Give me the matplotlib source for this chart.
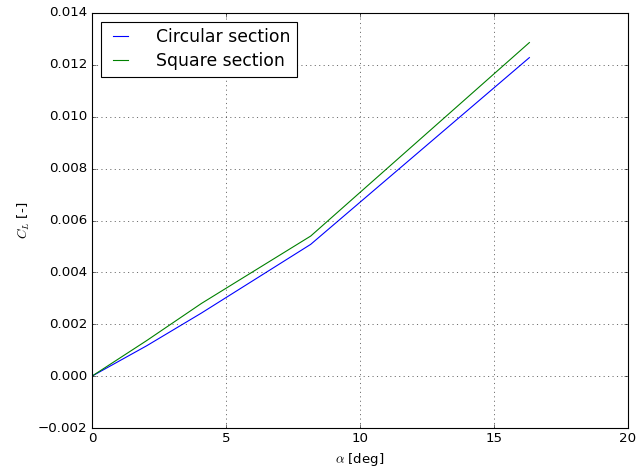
import matplotlib
matplotlib.use("Agg")
import matplotlib.pyplot as plt

alpha_deg = [0.0, 2.04, 4.08, 8.16, 12.24, 16.32]
cl_circular = [0.0, 0.00117, 0.00243, 0.00508, 0.00868, 0.01228]
cl_square = [0.0, 0.00137, 0.00280, 0.00540, 0.00913, 0.01286]

plt.style.use('classic')
fig = plt.figure(figsize=(644/80, 470/80), dpi=80)
ax = fig.add_axes([92/644, 1 - 428/470, (628-92)/644, (428-13)/470])
ax.plot(alpha_deg, cl_circular, color='b', label='Circular section')
ax.plot(alpha_deg, cl_square, color='g', label='Square section')
ax.set_xlim(0, 20)
ax.set_ylim(-0.002, 0.014)
ax.grid(True)
ax.set_xlabel(r'$\alpha$ [deg]')
ax.set_ylabel(r'$C_L$ [-]')
ax.legend(loc='upper left', fontsize=15.5, handlelength=1.5, handletextpad=1.3,
          borderpad=0.4, labelspacing=0.3)
fig.savefig('out.png', dpi=80)
